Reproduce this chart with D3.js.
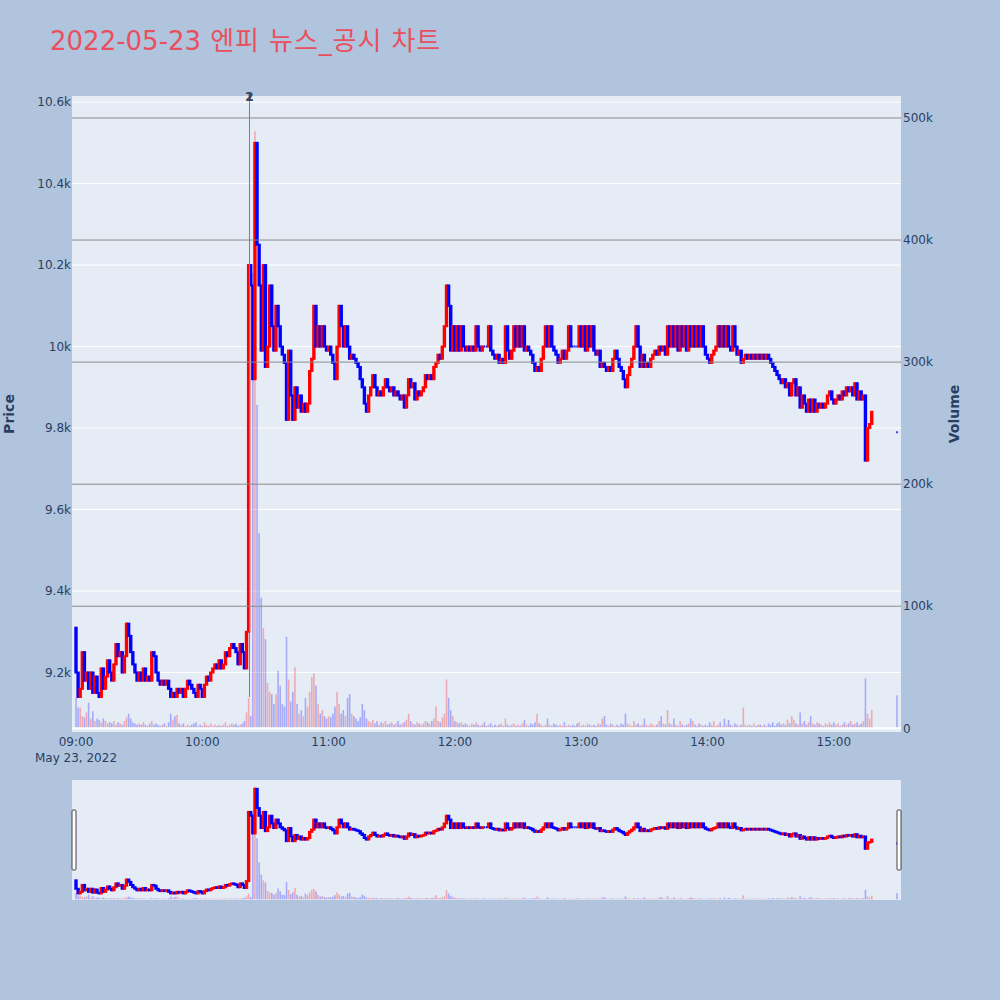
<!DOCTYPE html>
<html><head><meta charset="utf-8">
<script src="https://cdn.jsdelivr.net/npm/d3@7"></script>
<style>body{margin:0;background:#b0c4de;} svg{display:block}</style>
</head><body><svg id="c" width="1000" height="1000"></svg>
<script>
const chartTitle = "2022-05-23 엔피 뉴스_공시 차트";
const sessionStart = "2022-05-23T09:00:00";
const firstOpen = 9310;
// 1-minute closes from 09:00 (null = no trade in that minute); each bar opens at previous close
const closes = [
9200,9140,9160,9250,9180,9200,9160,9200,9150,9190,
9150,9140,9210,9160,9190,9230,9200,9180,9220,9270,
9240,9250,9200,9240,9320,9290,9250,9220,9200,9180,
9200,9180,9210,9180,9190,9180,9250,9240,9200,9180,
9170,9180,9170,9180,9160,9140,9150,9140,9160,9150,
9160,9140,9160,9180,9170,9160,9150,9140,9170,9160,
9140,9170,9190,9180,9200,9210,9220,9210,9230,9210,
9220,9250,9240,9260,9270,9260,9250,9220,9270,9250,
9210,9300,10200,10150,9920,10500,10250,10150,9990,10200,
9950,10000,10150,10050,9990,10100,10050,10000,9980,9960,
9820,9990,9880,9820,9900,9850,9880,9840,9860,9840,
9860,9940,9970,10100,10000,10050,10000,10050,10000,9990,
10000,9980,9960,9920,10000,10100,10050,10000,10050,10000,
9970,9980,9970,9960,9950,9920,9900,9860,9840,9880,
9900,9930,9900,9880,9890,9880,9900,9920,9900,9890,
9900,9880,9890,9880,9870,9880,9850,9880,9920,9900,
9910,9870,9890,9880,9890,9900,9930,9920,9930,9920,
9950,9960,9980,9970,10000,10050,10150,10100,9990,10050,
9990,10050,9990,10050,10000,9990,10000,9990,10000,9990,
10050,10000,9990,10000,10000,10000,10050,9990,9980,9970,
9980,9960,9970,9960,10050,9990,9970,9990,10050,10000,
10050,10000,10050,9990,10000,9990,9980,9960,9940,9950,
9940,9970,10000,10050,10000,10050,10000,9990,9980,9960,
9970,9990,9970,9990,10050,10000,10000,10000,10000,10050,
10000,10050,9990,10050,10000,10050,9990,9980,9990,9950,
9960,9950,9940,9950,9940,9970,9990,9970,9950,9940,
9920,9900,9930,9950,9970,10000,10050,10000,9950,9980,
9950,9960,9950,9970,9980,9990,9980,10000,9990,10000,
9980,10050,10000,10050,10000,10050,9990,10050,10000,10050,
9990,10050,10000,10050,10000,10050,10000,10050,10000,9980,
9970,9960,9980,9990,10000,10050,10000,10050,10000,10050,
10000,9990,10050,10000,9980,9990,9960,9970,9980,9970,
9980,9970,9980,9970,9980,9970,9980,9970,9980,9970,
9960,9950,9940,9930,9920,9910,9920,9900,9910,9880,
9910,9920,9880,9900,9850,9880,9860,9840,9870,9840,
9870,9840,9860,9850,9860,9850,9860,9880,9890,9870,
9860,9870,9880,9870,9890,9880,9900,9890,9900,9880,
9910,9870,9890,9870,9880,9720,9800,9810,9840,
null,null,null,null,null,null,null,null,null,null,null,
9790];
// volume per minute, thousands of shares
const volumesK = [
25,17,17,10,9,13,21,8,14,6,
8,7,5,8,6,4,5,4,6,3,
5,4,3,6,9,12,8,5,4,3,
4,3,5,3,2,4,6,3,4,3,
2,3,4,2,5,12,7,10,11,4,
3,4,2,3,2,3,4,5,2,3,
2,5,3,2,4,2,3,2,3,2,
3,5,2,3,4,3,4,2,3,4,
6,13,25,10,373,489,265,160,107,82,
73,37,30,28,20,28,47,35,20,18,
75,40,22,30,50,20,12,15,10,25,
18,30,42,45,35,20,12,15,10,8,
10,9,12,18,30,20,12,15,10,25,
28,12,10,8,6,9,20,15,8,6,
5,7,4,6,3,5,4,6,3,4,
5,3,4,6,3,4,5,7,12,6,
4,3,5,4,3,4,6,5,4,6,
8,18,6,5,9,12,40,25,15,10,
6,5,4,5,3,4,3,2,4,3,
5,3,2,3,5,2,3,4,2,3,
2,3,4,2,8,3,2,3,4,2,
3,2,4,7,3,2,4,3,5,12,
4,3,2,3,8,3,2,4,3,2,
3,2,5,2,3,2,3,2,4,5,
2,3,2,4,3,2,3,2,4,3,
8,10,3,2,4,3,2,3,2,4,
3,12,4,3,2,6,3,4,2,3,
8,3,2,4,3,2,3,6,10,4,
3,15,4,3,8,3,2,6,3,2,
3,4,8,6,3,2,4,3,2,3,
2,5,3,6,2,3,5,2,8,3,
7,3,2,4,3,2,3,17,3,2,
3,2,4,2,3,3,2,3,2,4,
3,5,2,4,5,3,4,3,7,4,
10,7,4,3,13,4,6,3,5,10,
4,3,5,4,3,2,4,3,5,3,
5,3,4,2,3,5,3,4,6,3,
4,5,3,4,6,41,12,8,15,
null,null,null,null,null,null,null,null,null,null,null,
27];
const priceTicks = [9200,9400,9600,9800,10000,10200,10400,10600];
const priceTickLabels = ["9.2k","9.4k","9.6k","9.8k","10k","10.2k","10.4k","10.6k"];
const volumeTicksK = [0,100,200,300,400,500];
const volumeTickLabels = ["0","100k","200k","300k","400k","500k"];
const timeTickLabels = ["09:00","10:00","11:00","12:00","13:00","14:00","15:00"];
const dateLabel = "May 23, 2022";
const newsTimes = ["10:22:25","10:22:25"];
const newsLabels = ["1","2"];
const newsLinePrice = 9140;

const svg = d3.select("#c");
const font = "'DejaVu Sans', 'Noto Sans CJK KR', sans-serif";
const textColor = "#2a3f5f";
const t0 = new Date(sessionStart);
const minute = 60000;
const L = 72, R = 901, T = 96, B = 732;
const x = d3.scaleTime().domain([new Date(+t0 - 1.9*minute), new Date(+t0 + 391.9*minute)]).range([L, R]);
const y = d3.scaleLinear().domain([9054, 10615]).range([B, T]);
const yv = d3.scaleLinear().domain([-3, 518]).range([B, T]);
const sT = 780, sB = 900;
const ys = y.copy().range([sB, sT]);
const yvs = yv.copy().range([sB, sT]);

const rows = [];
closes.forEach((c, i) => {
  if (c == null) return;
  const o = i === 0 ? firstOpen : (closes[i-1] == null ? c : closes[i-1]);
  rows.push({t: new Date(+t0 + i*minute), o, c, v: volumesK[i]});
});
const up = "#ff0000", down = "#0000ff";

const title = svg.append("text").attr("x", 50).attr("y", 50).attr("font-family", font).attr("font-size", 26)
  .attr("fill", "#e8505e");
const sp = chartTitle.indexOf(" ");
title.append("tspan").text(chartTitle.slice(0, sp));
title.append("tspan").attr("letter-spacing", 0.9).text(chartTitle.slice(sp));

// main background
svg.append("rect").attr("x", L).attr("y", T).attr("width", R-L).attr("height", B-T).attr("fill", "#e5ecf6");

// price grid (white)
svg.append("g").selectAll("line").data(priceTicks).join("line")
  .attr("x1", L).attr("x2", R).attr("y1", d => y(d)).attr("y2", d => y(d))
  .attr("stroke", "#fff").attr("stroke-width", 1);

function drawVolume(g, ysc) {
  g.selectAll("rect").data(rows).join("rect")
    .attr("x", d => x(d.t) - 0.8).attr("width", 1.6)
    .attr("y", d => ysc(d.v)).attr("height", d => Math.max(0, ysc(0) - ysc(d.v)))
    .attr("fill", d => d.c > d.o ? "rgba(255,0,0,0.28)" : "rgba(0,0,255,0.28)");
}
function drawCandles(g, ysc) {
  g.selectAll("path").data(rows).join("path")
    .attr("d", d => {
      const cx = x(d.t), x0 = cx - 0.7, x1 = cx + 0.7;
      const a = ysc(Math.max(d.o, d.c)), b = ysc(Math.min(d.o, d.c));
      return `M${x0},${a}H${x1}V${b}H${x0}Z`;
    })
    .attr("fill", d => d.c > d.o ? up : down)
    .attr("stroke", d => d.c > d.o ? up : down)
    .attr("stroke-width", 2);
}

drawVolume(svg.append("g"), yv);
drawCandles(svg.append("g"), y);

// volume grid (gray) and zero line
svg.append("g").selectAll("line").data(volumeTicksK.filter(d => d > 0)).join("line")
  .attr("x1", L).attr("x2", R).attr("y1", d => yv(d)).attr("y2", d => yv(d))
  .attr("stroke", "#8a8a8a").attr("stroke-width", 1);
svg.append("line").attr("x1", L).attr("x2", R).attr("y1", yv(0)).attr("y2", yv(0))
  .attr("stroke", "#fff").attr("stroke-width", 2);

// news marker
const parseNews = s => new Date(sessionStart.slice(0, 11) + s);
svg.append("line").attr("x1", x(parseNews(newsTimes[0]))).attr("x2", x(parseNews(newsTimes[0])))
  .attr("y1", T).attr("y2", y(newsLinePrice)).attr("stroke", "#5f80d8").attr("stroke-width", 1);
newsLabels.forEach((lab, i) => {
  svg.append("text").attr("x", x(parseNews(newsTimes[i]))).attr("y", T + 1)
    .attr("text-anchor", "middle").attr("font-family", font).attr("font-size", 12).attr("font-weight", "bold")
    .attr("fill", "#3b4a60").attr("dominant-baseline", "middle").text(lab);
});

// left axis labels
svg.append("g").selectAll("text").data(priceTicks).join("text")
  .attr("x", 71).attr("y", d => y(d)).attr("dy", "0.35em").attr("text-anchor", "end")
  .attr("font-family", font).attr("font-size", 12).attr("fill", textColor)
  .text((d, i) => priceTickLabels[i]);
// right axis labels
svg.append("g").selectAll("text").data(volumeTicksK).join("text")
  .attr("x", 903).attr("y", d => yv(d)).attr("dy", "0.35em").attr("text-anchor", "start")
  .attr("font-family", font).attr("font-size", 12).attr("fill", textColor)
  .text((d, i) => volumeTickLabels[i]);
// time axis labels
timeTickLabels.forEach((lab, i) => {
  const t = new Date(sessionStart.slice(0, 11) + lab + ":00");
  svg.append("text").attr("x", x(t)).attr("y", 746).attr("text-anchor", "middle")
    .attr("font-family", font).attr("font-size", 12).attr("fill", textColor).text(lab);
  if (i === 0) svg.append("text").attr("x", x(t)).attr("y", 762).attr("text-anchor", "middle")
    .attr("font-family", font).attr("font-size", 12).attr("fill", textColor).text(dateLabel);
});
// axis titles
svg.append("text").attr("transform", `translate(14,${(T+B)/2}) rotate(-90)`).attr("text-anchor", "middle")
  .attr("font-family", font).attr("font-size", 14).attr("font-weight", "bold").attr("fill", textColor).text("Price");
svg.append("text").attr("transform", `translate(959,${(T+B)/2}) rotate(-90)`).attr("text-anchor", "middle")
  .attr("font-family", font).attr("font-size", 14).attr("font-weight", "bold").attr("fill", textColor).text("Volume");

// range slider
svg.append("rect").attr("x", L).attr("y", sT).attr("width", R-L).attr("height", sB-sT).attr("fill", "#e5ecf6");
drawVolume(svg.append("g"), yvs);
drawCandles(svg.append("g"), ys);
[L + 2, R - 2].forEach(hx => {
  svg.append("rect").attr("x", hx - 2).attr("y", 810).attr("width", 4).attr("height", 60)
    .attr("fill", "#fff").attr("stroke", "#444").attr("stroke-width", 1).attr("rx", 1);
});
</script></body></html>
